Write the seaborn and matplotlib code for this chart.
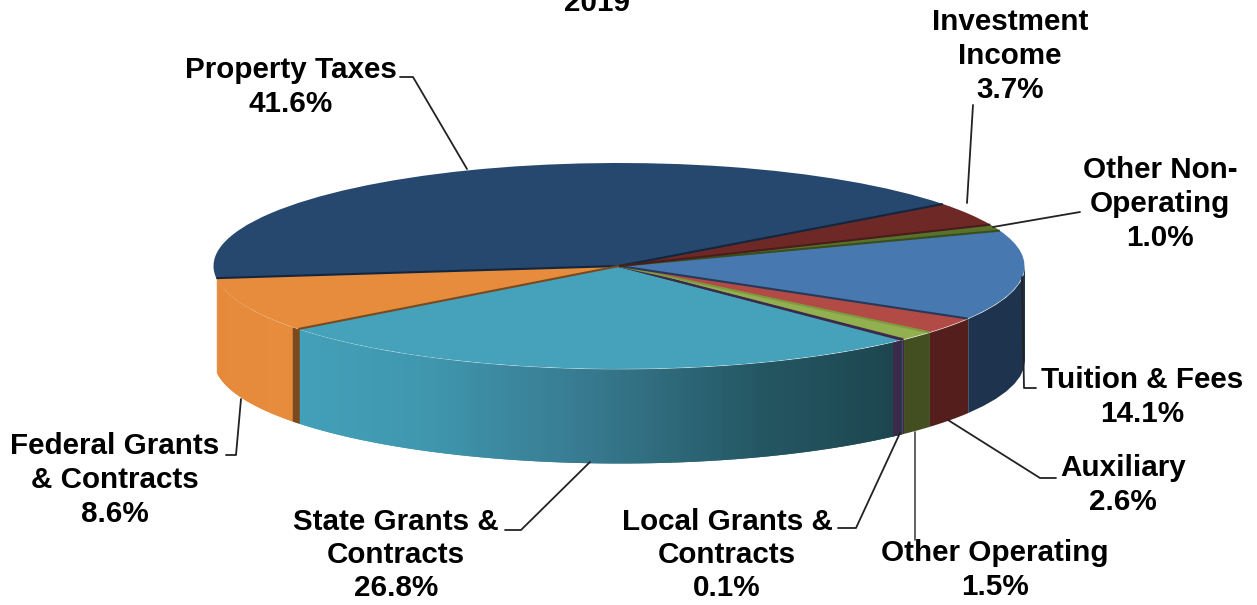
import numpy as np
import seaborn as sns
import matplotlib.pyplot as plt

names = ["Property Taxes", "Federal Grants\n& Contracts", "State Grants &\nContracts", "Local Grants &\nContracts",
         "Other Operating", "Auxiliary", "Tuition & Fees", "Other Non-\nOperating", "Investment\nIncome"]
values = [41.6, 8.6, 26.8, 0.1, 1.5, 2.6, 14.1, 1.0, 3.7]
top_colors = ["#26476e", "#e68c3c", "#46a1ba", "#5f4580", "#92b050", "#b24a46", "#4878b0", "#56722c", "#6e2926"]
# seam drawn along the start of each slice
edge_colors = ["#12263f", "#12263f", "#7a4a1e", "#3c2a4c", "#3c2a4c", "#7d9a40", "#27395a", "#3a4d1c", "#4a1c1a"]
# colour stops of the gradient on each outer wall, None where no wall shows
wall_colors = [None, ["#e58a3b", "#e68c3c"], ["#43a0b9", "#3f97ae", "#37798f", "#245763", "#1c444e"], ["#3b2a4a"],
               ["#434f21"], ["#531e1c"], ["#1e334e"], None, None]

# label centres and leader lines, in picture pixels
label_pos = [(291, 87), (115, 480), (396, 555), (727, 555), (995, 570), (1123, 485), (1142, 397), (1160, 204), (1010, 56)]
leaders = [[(400, 77), (413, 77), (467, 169)],
           [(241, 399), (236, 455), (226, 455)],
           [(590, 462), (521, 530), (505, 530)],
           [(900, 433), (856, 528), (838, 528)],
           [(915, 432), (915, 540)],
           [(948, 420), (1040, 478), (1056, 478)],
           [(1022, 277), (1024, 388), (1036, 388)],
           [(993, 227), (1080, 212)],
           [(973, 105), (967, 203)]]
leader_colors = ["#222222"] * 4 + ["#555555"] + ["#222222"] * 4

start_angle = 37
cx, cy, rx, ry = 619, 266, 405.5, 103   # top ellipse in pixels
depth = 94 / ry

sns.set_theme(style="white")
plt.rcParams['font.family'] = ['Liberation Sans', 'DejaVu Sans']

fig = plt.figure(figsize=(12.57, 6.05), dpi=100)
ax = fig.add_axes([0, 0, 1, 1])

wedges, _ = ax.pie(values, colors=top_colors, startangle=start_angle, counterclock=True, radius=1,
                   wedgeprops={"zorder": 3, "linewidth": 0})
ax.set_aspect("auto")
ax.set_xlim((0 - cx) / rx, (1257 - cx) / rx)
ax.set_ylim((cy - 605) / ry, cy / ry)

ends = start_angle + np.cumsum(values) * 3.6
starts = np.r_[start_angle, ends[:-1]]

# outer wall, only the part that faces the viewer
for a0, a1, cols in zip(starts, ends, wall_colors):
    a0, a1 = max(a0, 180), min(a1, 360)
    if cols is None or a1 <= a0:
        continue
    n = int(a1 - a0) * 2 if len(cols) > 1 else 1
    pal = sns.blend_palette(cols, n) if n > 1 else cols
    steps = np.linspace(a0, a1, n + 1)
    for i in range(n):
        # each step runs under the next one so no seams show between them
        t = np.radians(np.linspace(steps[i], steps[min(i + 2, n)], 8))
        ax.fill_between(np.cos(t), np.sin(t), np.sin(t) - depth, color=pal[i], lw=0, zorder=1)

# cut faces where slices are pulled apart
for a, wide, col in [(ends[1], (-6, 1), "#7a4a1e"), (ends[2], (-9, -1), "#3b2a4a")]:
    x0 = np.cos(np.radians(a))
    xs = np.linspace(x0 + wide[0] / rx, x0 + wide[1] / rx, 5)
    ytop = -np.sqrt(1 - xs ** 2)
    ax.fill_between(xs, ytop, ytop - depth, color=col, lw=0, zorder=2)

# dark seams on the top face
for a, col in zip(starts, edge_colors):
    t = np.radians(a)
    ax.plot([0, np.cos(t)], [0, np.sin(t)], color=col, lw=1.5, zorder=4, solid_capstyle="butt")

# pixel axes for labels and leader lines
lab = fig.add_axes([0, 0, 1, 1], facecolor="none")
lab.set_xlim(0, 1257)
lab.set_ylim(605, 0)
lab.axis("off")

for name, v, pos, line, lc in zip(names, values, label_pos, leaders, leader_colors):
    lab.text(pos[0], pos[1], f"{name}\n{v:.1f}%", ha="center", va="center", fontsize=21.3,
             fontweight="bold", color="black", linespacing=1.25)
    xs, ys = zip(*line)
    lab.plot(xs, ys, color=lc, lw=1.3)
lab.text(597, 3, "2019", ha="center", va="center", fontsize=21.3, fontweight="bold", color="black")

fig.savefig("out.png", dpi=100)
